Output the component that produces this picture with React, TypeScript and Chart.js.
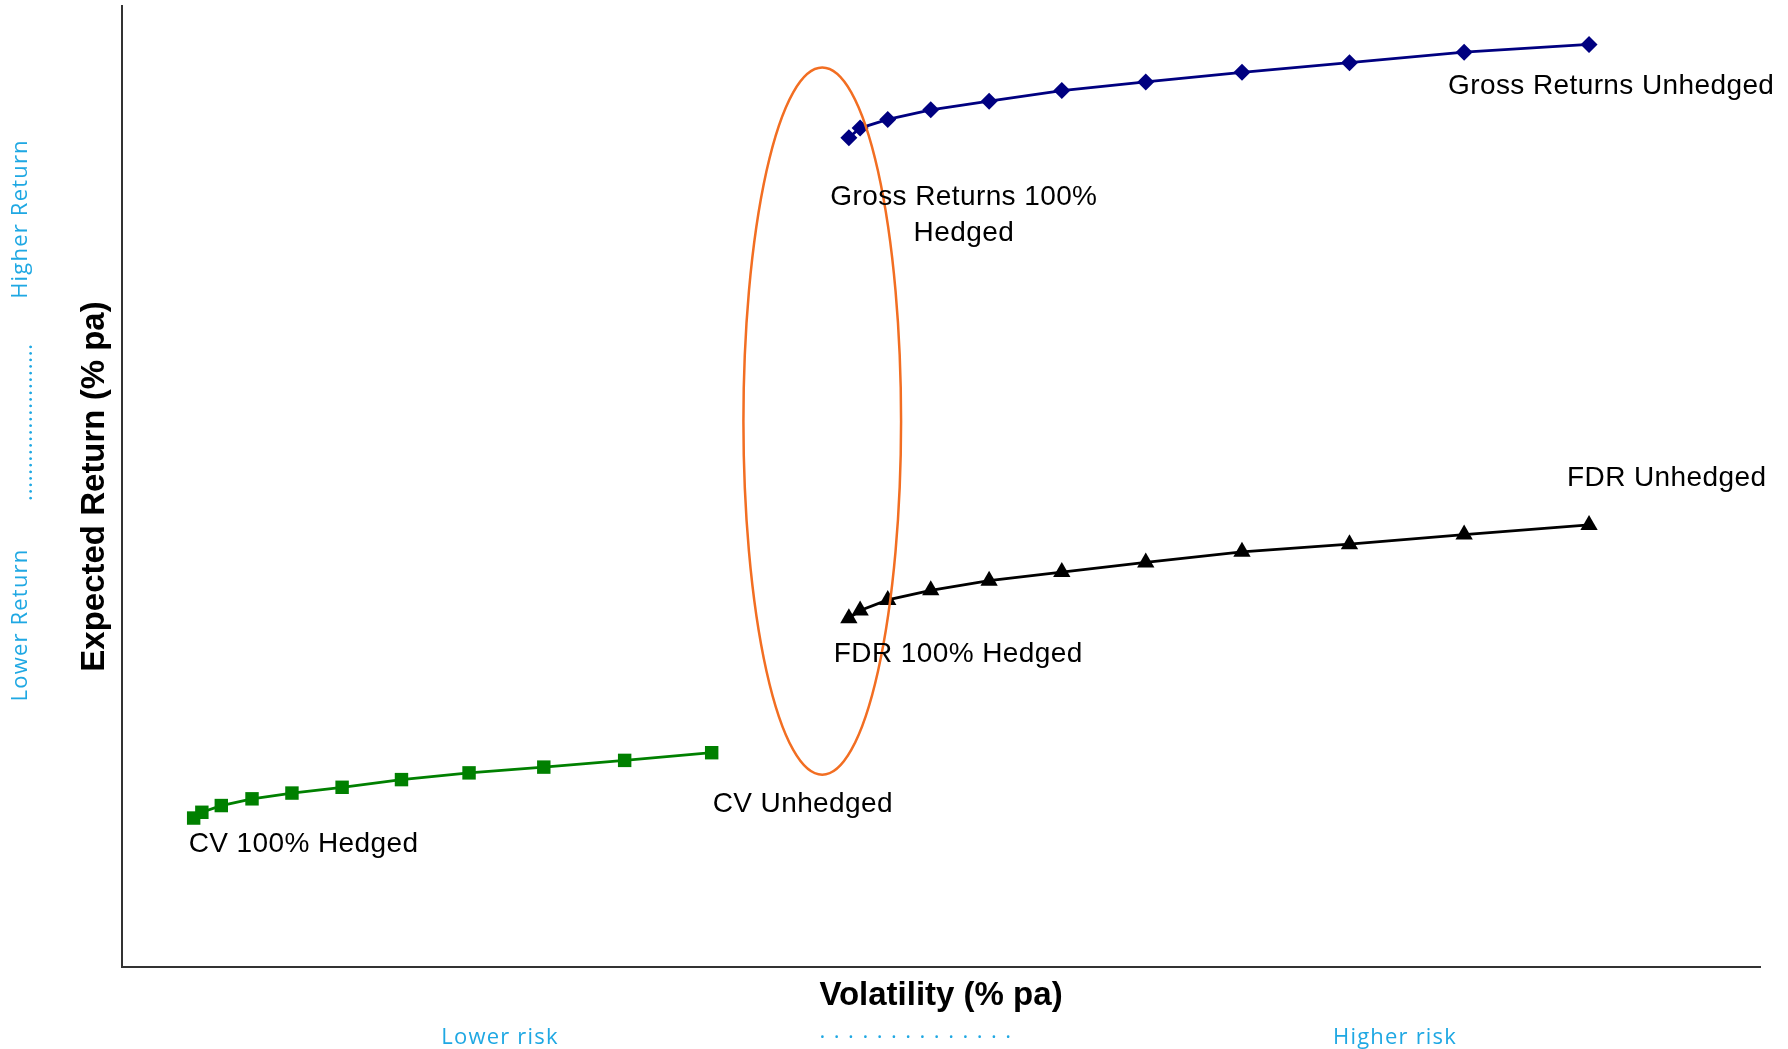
import React, { useEffect, useRef } from 'react';
import { Chart, registerables } from 'chart.js';

Chart.register(...registerables);

// ---- data (volatility % pa, expected return % pa), hedge ratio 100% -> 0% ----
const hedgeRatios = ['100%', '90%', '80%', '70%', '60%', '50%', '40%', '30%', '20%', '10%', '0%'];

const grossVol = [7.10, 7.21, 7.48, 7.90, 8.47, 9.18, 10.00, 10.94, 11.99, 13.11, 14.33];
const grossRet = [8.63, 8.73, 8.82, 8.92, 9.01, 9.12, 9.21, 9.31, 9.41, 9.52, 9.60];

const fdrVol = [7.10, 7.21, 7.48, 7.90, 8.47, 9.18, 10.00, 10.94, 11.99, 13.11, 14.33];
const fdrRet = [3.63, 3.71, 3.82, 3.92, 4.02, 4.11, 4.21, 4.32, 4.40, 4.50, 4.60];

const cvVol = [0.70, 0.78, 0.97, 1.27, 1.66, 2.15, 2.73, 3.39, 4.12, 4.91, 5.76];
const cvRet = [1.55, 1.61, 1.68, 1.75, 1.81, 1.87, 1.95, 2.02, 2.08, 2.15, 2.23];

const seriesNames = ['Gross Returns', 'FDR', 'CV'];

const xAxisTitle = 'Volatility (% pa)';
const yAxisTitle = 'Expected Return (% pa)';
const riskLabels = ['Lower risk', 'Higher risk'];
const returnLabels = ['Lower Return', 'Higher Return'];

// highlight ellipse around the 100%-hedged region, in data units
const ellipseCenter = [6.84, 5.68];
const ellipseRadii = [0.77, 3.68];

// annotation texts attached to series end points
const pointLabels = [
  { lines: ['Gross Returns Unhedged'], ds: 0, idx: 10, dx: -141, dy: 50, align: 'left' },
  { lines: ['Gross Returns 100%', 'Hedged'], ds: 0, idx: 0, dx: 115, dy: 67, align: 'center' },
  { lines: ['FDR Unhedged'], ds: 1, idx: 10, dx: -22, dy: -39, align: 'left' },
  { lines: ['FDR 100% Hedged'], ds: 1, idx: 0, dx: -15, dy: 44, align: 'left' },
  { lines: ['CV 100% Hedged'], ds: 2, idx: 0, dx: -5, dy: 34, align: 'left' },
  { lines: ['CV Unhedged'], ds: 2, idx: 10, dx: 1, dy: 59, align: 'left' },
];

const W = 1788;
const H = 1049;
const FONT = "'Liberation Sans', Arial, sans-serif";
const BLUE = '#1fa8e3';

const toPoints = (xs: number[], ys: number[]) => xs.map((x, i) => ({ x, y: ys[i] }));

const annotationPlugin = {
  id: 'annotations',
  afterDatasetsDraw(chart: any) {
    const { ctx, chartArea, scales } = chart;
    const xs = scales.x;
    const ys = scales.y;
    ctx.save();

    // ellipse
    const cx = xs.getPixelForValue(ellipseCenter[0]);
    const cy = ys.getPixelForValue(ellipseCenter[1]);
    const rx = Math.abs(xs.getPixelForValue(ellipseCenter[0] + ellipseRadii[0]) - cx);
    const ry = Math.abs(ys.getPixelForValue(ellipseCenter[1] + ellipseRadii[1]) - cy);
    ctx.beginPath();
    ctx.ellipse(cx, cy, rx, ry, 0, 0, Math.PI * 2);
    ctx.strokeStyle = '#f26e22';
    ctx.lineWidth = 2.5;
    ctx.stroke();

    // point labels
    ctx.fillStyle = '#000';
    ctx.font = `28px ${FONT}`;
    (ctx as any).letterSpacing = '0.4px';
    ctx.textBaseline = 'alphabetic';
    for (const lab of pointLabels) {
      const el = chart.getDatasetMeta(lab.ds).data[lab.idx];
      ctx.textAlign = lab.align as CanvasTextAlign;
      lab.lines.forEach((line, i) => {
        ctx.fillText(line, el.x + lab.dx, el.y + lab.dy + i * 36);
      });
    }
    (ctx as any).letterSpacing = '0px';

    // axis titles
    ctx.font = `bold 33px ${FONT}`;
    ctx.textAlign = 'center';
    ctx.textBaseline = 'middle';
    ctx.fillText(xAxisTitle, (chartArea.left + chartArea.right) / 2, chartArea.bottom + 29);
    ctx.save();
    ctx.translate(chartArea.left - 27, (chartArea.top + chartArea.bottom) / 2);
    ctx.rotate(-Math.PI / 2);
    ctx.fillText(yAxisTitle, 0, 0);
    ctx.restore();

    // risk / return guides
    ctx.fillStyle = BLUE;
    ctx.font = `22px 'Open Sans', ${FONT}`;
    (ctx as any).letterSpacing = '1.2px';
    const by = chartArea.bottom + 71;
    ctx.fillText(riskLabels[0], 500, by);
    ctx.fillText(riskLabels[1], 1395, by);
    (ctx as any).letterSpacing = '1.4px';
    ctx.fillText('. . . . . . . . . . . . . .', 916, by - 6);

    ctx.save();
    ctx.translate(21, 0);
    ctx.rotate(-Math.PI / 2);
    (ctx as any).letterSpacing = '1.2px';
    ctx.fillText(returnLabels[1], -219, 0);
    ctx.fillText(returnLabels[0], -625, 0);
    (ctx as any).letterSpacing = '0.8px';
    ctx.fillText('........................', -422, 5);
    ctx.restore();

    ctx.restore();
  },
};

export default function App() {
  const ref = useRef<HTMLCanvasElement>(null);

  useEffect(() => {
    if (!ref.current) return;
    const chart = new Chart(ref.current, {
      type: 'scatter',
      data: {
        labels: hedgeRatios,
        datasets: [
          {
            label: seriesNames[0],
            data: toPoints(grossVol, grossRet),
            showLine: true,
            borderColor: '#000080',
            backgroundColor: '#000080',
            borderWidth: 2.8,
            pointStyle: 'rectRot',
            pointRadius: 8.5,
            pointBorderWidth: 0,
            tension: 0,
          },
          {
            label: seriesNames[1],
            data: toPoints(fdrVol, fdrRet),
            showLine: true,
            borderColor: '#000000',
            backgroundColor: '#000000',
            borderWidth: 2.8,
            pointStyle: 'triangle',
            pointRadius: 10,
            pointBorderWidth: 0,
            tension: 0,
          },
          {
            label: seriesNames[2],
            data: toPoints(cvVol, cvRet),
            showLine: true,
            borderColor: '#008000',
            backgroundColor: '#008000',
            borderWidth: 2.8,
            pointStyle: 'rect',
            pointRadius: 9.5,
            pointBorderWidth: 0,
            tension: 0,
          },
        ],
      },
      options: {
        responsive: false,
        animation: false,
        layout: { autoPadding: false, padding: { left: 122, top: 6, right: W - 1760, bottom: H - 967 } },
        plugins: { legend: { display: false }, tooltip: { enabled: false }, title: { display: false } },
        scales: {
          x: {
            type: 'linear',
            min: 0,
            max: 16,
            grid: { display: false, drawTicks: false },
            ticks: { display: false },
            border: { display: true, color: '#333333', width: 2 },
          },
          y: {
            type: 'linear',
            min: 0,
            max: 10,
            grid: { display: false, drawTicks: false },
            ticks: { display: false },
            border: { display: true, color: '#333333', width: 2 },
          },
        },
      },
      plugins: [annotationPlugin],
    });
    return () => chart.destroy();
  }, []);

  return (
    <div style={{ position: 'fixed', left: 0, top: 0, width: W, height: H, background: '#fff' }}>
      <canvas ref={ref} width={W} height={H} style={{ display: 'block' }} />
    </div>
  );
}
